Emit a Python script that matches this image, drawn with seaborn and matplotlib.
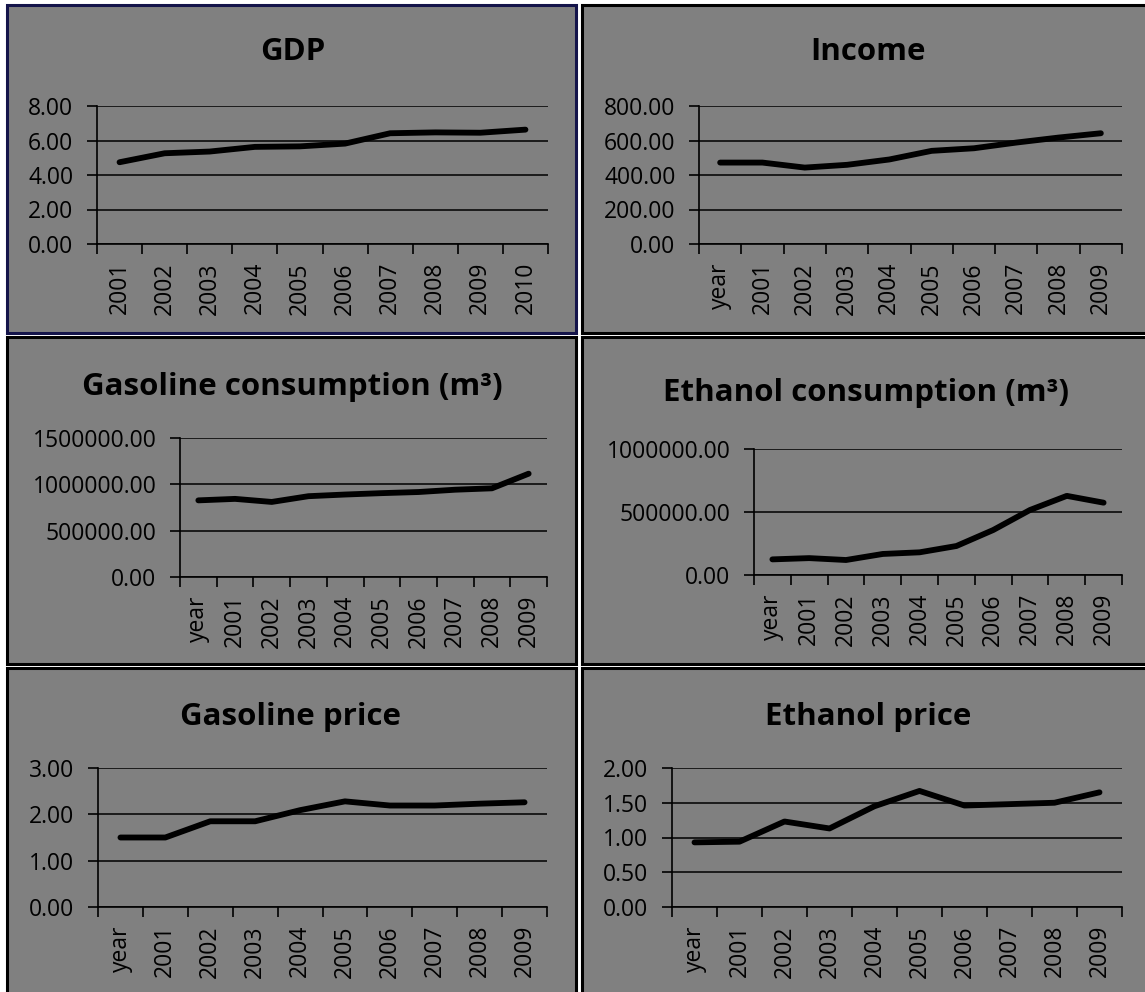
import matplotlib
matplotlib.use("Agg")
import matplotlib.pyplot as plt
import matplotlib.ticker as mticker
from matplotlib.patches import Rectangle
import seaborn as sns
import pandas as pd
import numpy as np

# categories
years_gdp = ['2001', '2002', '2003', '2004', '2005', '2006', '2007', '2008', '2009', '2010']
years_rest = ['year', '2001', '2002', '2003', '2004', '2005', '2006', '2007', '2008', '2009']

# series values
gdp = [4.74, 5.26, 5.36, 5.63, 5.66, 5.82, 6.42, 6.47, 6.45, 6.63]
income = [472, 472, 443, 459, 490, 540, 555, 588, 617, 642]
gasoline_cons = [827000, 843000, 810000, 872000, 890000, 905000, 917000, 942000, 957000, 1115000]
ethanol_cons = [124000, 134000, 119000, 167000, 180000, 230000, 357000, 516000, 628000, 574000]
gasoline_price = [1.50, 1.50, 1.85, 1.85, 2.09, 2.28, 2.19, 2.19, 2.23, 2.26]
ethanol_price = [0.93, 0.94, 1.23, 1.13, 1.45, 1.67, 1.46, 1.48, 1.50, 1.65]

# titles and y ticks
titles = ['GDP', 'Income', 'Gasoline consumption (m\u00b3)', 'Ethanol consumption (m\u00b3)',
          'Gasoline price', 'Ethanol price']
yticks_gdp = [0, 2, 4, 6, 8]
yticks_income = [0, 200, 400, 600, 800]
yticks_gcons = [0, 500000, 1000000, 1500000]
yticks_econs = [0, 500000, 1000000]
yticks_gprice = [0, 1, 2, 3]
yticks_eprice = [0, 0.5, 1.0, 1.5, 2.0]

sns.set_style("ticks")
plt.rcParams['font.family'] = ['Open Sans', 'DejaVu Sans']

W, H = 1145, 992
fig = plt.figure(figsize=(W / 100, H / 100), dpi=100, facecolor='white')


def frac_rect(x0, y0, x1, y1):
    # pixel box (top-left origin) -> figure fraction [left, bottom, width, height]
    return [x0 / W, 1 - y1 / H, (x1 - x0) / W, (y1 - y0) / H]


panels = [
    ((7, 5, 576, 333), '#14144a'),
    ((582, 5, 1150, 333), 'black'),
    ((7, 337, 576, 664), 'black'),
    ((582, 337, 1150, 664), 'black'),
    ((7, 668, 576, 998), 'black'),
    ((582, 668, 1150, 998), 'black'),
]
for box, ec in panels:
    l, b, w, h = frac_rect(*box)
    fig.patches.append(Rectangle((l, b), w, h, transform=fig.transFigure,
                                 facecolor='#808080', edgecolor=ec, linewidth=2.2, zorder=-1))

axes_boxes = [
    (97, 106, 548, 244),
    (699, 106, 1122, 244),
    (180, 438, 547, 577),
    (754, 449, 1122, 575),
    (98, 768, 547, 907),
    (672, 768, 1122, 907),
]
title_pos = [(293, 52), (868, 52), (292, 387), (866, 393), (291, 717), (868, 717)]

series = [
    (years_gdp, gdp, yticks_gdp),
    (years_rest, income, yticks_income),
    (years_rest, gasoline_cons, yticks_gcons),
    (years_rest, ethanol_cons, yticks_econs),
    (years_rest, gasoline_price, yticks_gprice),
    (years_rest, ethanol_price, yticks_eprice),
]

for i, (cats, vals, yt) in enumerate(series):
    ax = fig.add_axes(frac_rect(*axes_boxes[i]))
    ax.set_facecolor('none')
    df = pd.DataFrame({'cat': cats, 'val': vals})
    sns.lineplot(data=df, x='cat', y='val', ax=ax, color='black', linewidth=4.2,
                 sort=False, solid_capstyle='round', solid_joinstyle='round', zorder=3)
    n = len(cats)
    ax.set_xlim(-0.5, n - 0.5)
    ax.set_ylim(yt[0], yt[-1])
    ax.set_yticks(yt)
    ax.yaxis.set_major_formatter(mticker.FormatStrFormatter('%.2f'))
    ax.set_xticks(range(n))
    ax.set_xticklabels(cats, rotation=90)
    ax.set_xticks(np.arange(n + 1) - 0.5, minor=True)
    ax.tick_params(axis='x', which='major', length=0, pad=13, labelsize=16.5, colors='black')
    ax.tick_params(axis='x', which='minor', length=7, width=1.2, direction='out', color='black')
    ax.tick_params(axis='y', which='major', length=7, width=1.2, direction='out',
                   pad=10, labelsize=16.5, colors='black')
    ax.yaxis.grid(True, color='black', linewidth=1.1)
    ax.set_axisbelow(True)
    ax.set_xlabel('')
    ax.set_ylabel('')
    for s in ['top', 'right']:
        ax.spines[s].set_visible(False)
    for s in ['left', 'bottom']:
        ax.spines[s].set_color('black')
        ax.spines[s].set_linewidth(1.2)
        ax.spines[s].set_zorder(2)
    tx, ty = title_pos[i]
    fig.text(tx / W, 1 - ty / H, titles[i], ha='center', va='center',
             fontsize=22.5, fontweight='bold', color='black')

fig.savefig('out.png', dpi=100, facecolor='white')
